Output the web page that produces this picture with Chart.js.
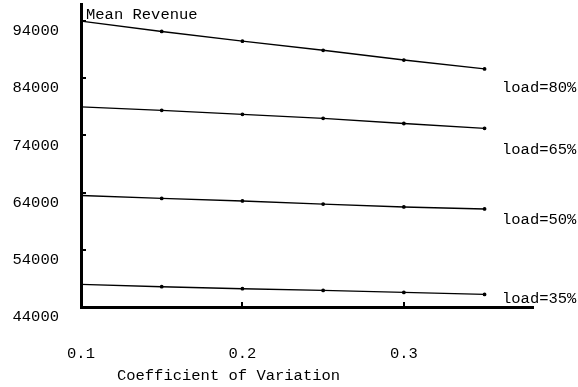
<!DOCTYPE html>
<html>
<head>
<meta charset="utf-8">
<script src="https://cdn.jsdelivr.net/npm/chart.js@4"></script>
<style>
    html, body { margin: 0; padding: 0; background: #fff; }
    #wrap { width: 578px; height: 387px; }
</style>
</head>
<body>
<div id="wrap"><canvas id="revChart"></canvas></div>
<script>
// Coefficient of variation on the x axis
const cov = [0.1, 0.15, 0.2, 0.25, 0.3, 0.35];

// Mean revenue per load level
const load80 = [94000, 92200, 90500, 88900, 87200, 85650];
const load65 = [79000, 78400, 77700, 77000, 76100, 75250];
const load50 = [63500, 63000, 62550, 62000, 61500, 61150];
const load35 = [47950, 47550, 47200, 46900, 46550, 46200];

const seriesNames = ['load=80%', 'load=65%', 'load=50%', 'load=35%'];
const yTicks = [44000, 54000, 64000, 74000, 84000, 94000];
const xTicks = [0.1, 0.2, 0.3];

const FONT = 'Liberation Mono, Courier New, monospace';

function makeSet(name, values) {
    return {
        label: name,
        data: cov.map((x, i) => ({ x: x, y: values[i] })),
        borderColor: '#000',
        backgroundColor: '#000',
        borderWidth: 1.4,
        pointRadius: 1.2,
        pointHoverRadius: 1.2,
        tension: 0
    };
}

// Draws the inner tick marks, the axis captions and the line labels
const decorations = {
    id: 'decorations',
    afterDraw(chart) {
        const ctx = chart.ctx;
        const area = chart.chartArea;
        const xs = chart.scales.x;
        const ys = chart.scales.y;
        ctx.save();
        ctx.strokeStyle = '#000';
        ctx.lineWidth = 2;
        yTicks.slice(1).forEach(v => {
            const py = Math.round(ys.getPixelForValue(v));
            ctx.beginPath();
            ctx.moveTo(area.left, py);
            ctx.lineTo(area.left + 5, py);
            ctx.stroke();
        });
        xTicks.slice(1).forEach(v => {
            const px = Math.round(xs.getPixelForValue(v));
            ctx.beginPath();
            ctx.moveTo(px, area.bottom);
            ctx.lineTo(px, area.bottom - 5);
            ctx.stroke();
        });

        ctx.fillStyle = '#000';
        ctx.font = '15.5px ' + FONT;
        ctx.textBaseline = 'middle';
        ctx.textAlign = 'left';
        ctx.fillText('Mean Revenue', area.left + 5, 15);

        // labels sit a little under the end of each line
        const labelY = [82300, 71400, 59300, 45500];
        seriesNames.forEach((name, i) => {
            ctx.fillText(name, 502, ys.getPixelForValue(labelY[i]));
        });

        ctx.textAlign = 'center';
        ctx.fillText('Coefficient of Variation', 228.5, 376);
        ctx.restore();
    }
};

const ctx = document.getElementById('revChart').getContext('2d');
new Chart(ctx, {
    type: 'line',
    data: {
        datasets: [
            makeSet(seriesNames[0], load80),
            makeSet(seriesNames[1], load65),
            makeSet(seriesNames[2], load50),
            makeSet(seriesNames[3], load35)
        ]
    },
    options: {
        responsive: true,
        maintainAspectRatio: false,
        animation: false,
        layout: { padding: { top: 4, right: 45, left: 0, bottom: 0 } },
        plugins: {
            legend: { display: false },
            tooltip: { enabled: false }
        },
        scales: {
            x: {
                type: 'linear',
                min: 0.1,
                max: 0.38,
                afterBuildTicks: s => { s.ticks = xTicks.map(v => ({ value: v })); },
                afterFit: s => { s.height = 80; s.paddingLeft = 0; s.paddingRight = 0; },
                grid: { display: false, drawTicks: false },
                border: { display: true, width: 3, color: '#000' },
                ticks: {
                    color: '#000',
                    font: { family: FONT, size: 15.5 },
                    padding: 38,
                    maxRotation: 0,
                    callback: v => v.toFixed(1)
                }
            },
            y: {
                type: 'linear',
                min: 44000,
                max: 97000,
                afterBuildTicks: s => { s.ticks = yTicks.map(v => ({ value: v })); },
                afterFit: s => { s.width = 81; s.paddingTop = 0; s.paddingBottom = 0; },
                grid: { display: false, drawTicks: false },
                border: { display: true, width: 3, color: '#000' },
                ticks: {
                    color: '#000',
                    font: { family: FONT, size: 15.5 },
                    padding: 22,
                    labelOffset: 10,
                    callback: v => String(v)
                }
            }
        }
    },
    plugins: [decorations]
});
</script>
</body>
</html>
